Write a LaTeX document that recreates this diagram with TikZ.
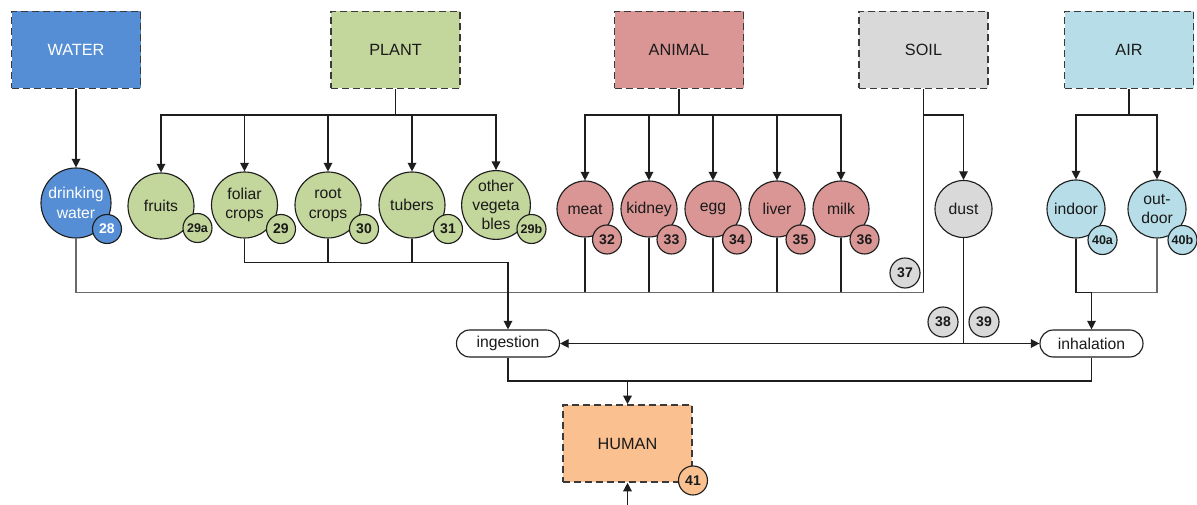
\documentclass[tikz,border=0pt]{standalone}
\usepackage{fontspec}
\setmainfont{Liberation Sans}
\usetikzlibrary{arrows.meta}

\definecolor{waterblue}{HTML}{558ED5}
\definecolor{plantgreen}{HTML}{C3D69B}
\definecolor{animalred}{HTML}{D99694}
\definecolor{soilgray}{HTML}{D9D9D9}
\definecolor{airblue}{HTML}{B7DEE8}
\definecolor{humanorange}{HTML}{FAC090}
\definecolor{edge}{HTML}{1E1E1E}
\definecolor{boxline}{HTML}{3A3A3A}
\definecolor{busline}{HTML}{6A6A6A}
\definecolor{txt}{HTML}{1A1A1A}

\tikzset{
  srcbox/.style={draw=boxline, line width=1.2pt, dash pattern=on 5.25pt off 3pt,
    minimum width=96.75pt, minimum height=57.75pt, inner sep=0pt,
    font=\fontsize{12.2}{14}\selectfont, text=txt},
  item/.style={circle, draw=edge, line width=0.85pt, inner sep=0pt, align=center,
    font=\fontsize{11.8}{14.5}\selectfont, text=txt},
  plantitem/.style={item, fill=plantgreen, minimum size=49.5pt},
  animalitem/.style={item, fill=animalred, minimum size=42pt},
  airitem/.style={item, fill=airblue, minimum size=43.5pt},
  badge/.style={circle, draw=edge, line width=0.85pt, inner sep=0pt, minimum size=21.75pt,
    font=\bfseries\fontsize{10.5}{12}\selectfont, text=txt},
  badgesm/.style={badge, font=\bfseries\fontsize{9.4}{11}\selectfont},
  route/.style={draw=edge, line width=1pt},
  bus/.style={draw=busline, line width=1pt},
  flow/.style={route, -{Triangle[length=6.5pt,width=6.5pt]}},
  flowboth/.style={route, {Triangle[length=6.5pt,width=6.5pt]}-{Triangle[length=6.5pt,width=6.5pt]}},
  pathway/.style={draw=edge, line width=0.85pt, rounded corners=10pt, fill=white,
    minimum width=77.25pt, minimum height=20.25pt, inner sep=0pt,
    font=\fontsize{11.8}{14}\selectfont, text=txt}
}

\begin{document}
\begin{tikzpicture}[x={(0.75pt,0)}, y={(0,-0.75pt)}]
\useasboundingbox (0,0) rectangle (1197,505);

% source compartments
\node[srcbox, fill=waterblue, text=white] (water)  at (76,50)   {WATER};
\node[srcbox, fill=plantgreen]            (plant)  at (395.5,50) {PLANT};
\node[srcbox, fill=animalred]             (animal) at (679,50)  {ANIMAL};
\node[srcbox, fill=soilgray]              (soil)   at (923.5,50) {SOIL};
\node[srcbox, fill=airblue]               (air)    at (1129,50) {AIR};
\node[srcbox, fill=humanorange]           (human)  at (627.5,443.5) {HUMAN};

% media
\node[item, fill=waterblue, text=white, minimum size=52.5pt] (dw) at (76,203) {drinking\\water};
\node[plantitem] (fruits)  at (161,206) {fruits};
\node[plantitem] (foliar)  at (244.5,205) {foliar\\crops};
\node[plantitem] (root)    at (328,205) {root\\crops};
\node[plantitem] (tubers)  at (412,205) {tubers};
\node[plantitem] (otherveg) at (496,205) {other\\vegeta\\bles};
\node[animalitem] (meat)   at (585,209) {meat};
\node[animalitem] (kidney) at (649,209) {kidney};
\node[animalitem] (egg)    at (713,209) {egg};
\node[animalitem] (liver)  at (777,209) {liver};
\node[animalitem] (milk)   at (841,209) {milk};
\node[item, fill=soilgray, minimum size=42.75pt] (dust) at (963.5,209) {dust};
\node[airitem] (indoor)  at (1076,209) {indoor};
\node[airitem] (outdoor) at (1157,209) {out-\\door};

% exposure pathways
\node[pathway] (ingestion)  at (508,343.5) {ingestion};
\node[pathway] (inhalation) at (1091.5,343.5) {inhalation};

% junction points
\coordinate (pbus) at (395.5,115);
\coordinate (abus) at (679,115);
\coordinate (sbus) at (923.5,115);
\coordinate (rbus) at (1129,115);
\coordinate (soilend) at (923.5,292.5);
\coordinate (plantjoin) at (508,262.5);
\coordinate (airjoin) at (1091.5,292.5);
\coordinate (humanjoin) at (627.5,381);
\coordinate (dermal) at (627.5,505);

% water
\draw[flow] (water.south) -- (dw.north);

% plant branches
\draw[route] (plant.south) -- (pbus);
\foreach \n in {fruits,foliar,root,tubers,otherveg}
  \draw[flow] (pbus) -| (\n.north);

% animal branches
\draw[route] (animal.south) -- (abus);
\foreach \n in {meat,kidney,egg,liver,milk}
  \draw[flow] (abus) -| (\n.north);

% soil branches
\draw[route] (soil.south) -- (soilend);
\draw[flow] (sbus) -| (dust.north);

% air branches
\draw[route] (air.south) -- (rbus);
\foreach \n in {indoor,outdoor}
  \draw[flow] (rbus) -| (\n.north);

% collection towards ingestion
\draw[bus] (dw.south) |- (soilend);
\foreach \n in {meat,kidney,egg,liver,milk}
  \draw[route] (\n.south) -- (\n.south |- soilend);
\draw[route] (foliar.south) |- (plantjoin);
\draw[route] (root.south) -- (root.south |- plantjoin);
\draw[route] (tubers.south) -- (tubers.south |- plantjoin);
\draw[flow] (plantjoin) -- (ingestion.north);

% dust to both pathways
\draw[flowboth] (ingestion.east) -- (inhalation.west);
\draw[route] (dust.south) -- (dust.south |- inhalation.west);

% air collection towards inhalation
\draw[route] (indoor.south) |- (airjoin);
\draw[bus] (outdoor.south) |- (airjoin);
\draw[flow] (airjoin) -- (inhalation.north);

% pathways to human
\draw[route] (ingestion.south) |- (humanjoin);
\draw[route] (inhalation.south) |- (humanjoin);
\draw[flow] (humanjoin) -- (human.north);
\draw[flow] (dermal) -- (human.south);

% equation badges
\node[badge, fill=waterblue, text=white] (b28) at (107,229) {28};
\node[badgesm, fill=plantgreen] (b29a) at (197.5,228) {29a};
\node[badge, fill=plantgreen] (b29) at (281,229) {29};
\node[badge, fill=plantgreen] (b30) at (364,229) {30};
\node[badge, fill=plantgreen] (b31) at (448,229) {31};
\node[badgesm, fill=plantgreen] (b29b) at (531.5,229) {29b};
\node[badge, fill=animalred] (b32) at (607,239.5) {32};
\node[badge, fill=animalred] (b33) at (671.5,239.5) {33};
\node[badge, fill=animalred] (b34) at (737,239.5) {34};
\node[badge, fill=animalred] (b35) at (800.5,239.5) {35};
\node[badge, fill=animalred] (b36) at (864.5,239.5) {36};
\node[badge, fill=soilgray, minimum size=22.5pt] (b37) at (905,273) {37};
\node[badge, fill=soilgray, minimum size=22.5pt] (b38) at (943,322) {38};
\node[badge, fill=soilgray, minimum size=22.5pt] (b39) at (984,322) {39};
\node[badgesm, fill=airblue] (b40a) at (1102.5,240) {40a};
\node[badgesm, fill=airblue] (b40b) at (1182.5,240) {40b};
\node[badge, fill=humanorange] (b41) at (693,480.5) {41};
\end{tikzpicture}
\end{document}
